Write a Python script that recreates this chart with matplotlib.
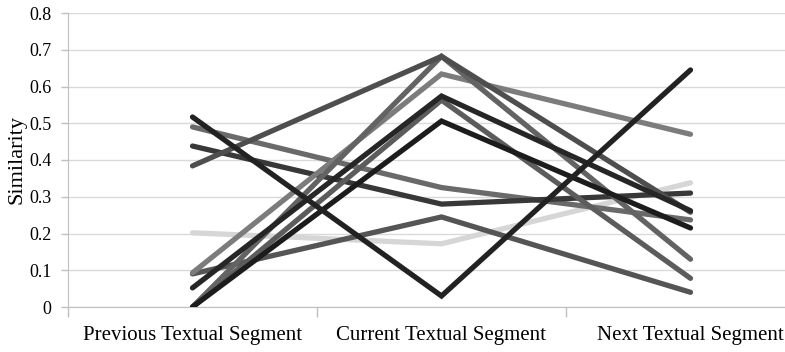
import matplotlib
matplotlib.use("Agg")
import matplotlib.pyplot as plt

categories = ["Previous Textual Segment", "Current Textual Segment", "Next Textual Segment"]

s01 = [0.517, 0.030, 0.645]
s02 = [0.490, 0.325, 0.237]
s03 = [0.438, 0.280, 0.310]
s04 = [0.384, 0.682, 0.258]
s05 = [0.202, 0.172, 0.338]
s06 = [0.093, 0.634, 0.470]
s07 = [0.090, 0.245, 0.040]
s08 = [0.052, 0.574, 0.262]
s09 = [0.000, 0.682, 0.130]
s10 = [0.000, 0.506, 0.215]
s11 = [0.000, 0.563, 0.078]

series = [s05, s02, s03, s07, s06, s11, s09, s04, s10, s08, s01]
colors = ["#d6d6d6", "#6a6a6a", "#383838", "#555555", "#7c7c7c", "#5c5c5c",
          "#636363", "#4e4e4e", "#1c1c1c", "#262626", "#222222"]

yticks = [0, 0.1, 0.2, 0.3, 0.4, 0.5, 0.6, 0.7, 0.8]
ytick_labels = ["0", "0.1", "0.2", "0.3", "0.4", "0.5", "0.6", "0.7", "0.8"]

plt.rcParams['font.family'] = ['Liberation Serif', 'DejaVu Serif']

fig = plt.figure(figsize=(7.85, 3.52), dpi=100)
ax = fig.add_axes([68/785, 45/352, 747/785, 294/352])

x = list(range(len(categories)))
for vals, c in zip(series, colors):
    ax.plot(x, vals, color=c, lw=3.8, solid_capstyle='round', solid_joinstyle='miter', zorder=3)

ax.set_xlim(-0.5, 2.5)
ax.set_ylim(0, 0.8)
ax.set_yticks(yticks)
ax.set_yticklabels(ytick_labels, fontsize=13)
ax.set_xticks(x)
ax.set_xticklabels(categories, fontsize=15)
ax.set_xticks([-0.5, 0.5, 1.5, 2.5], minor=True)
ax.tick_params(axis='x', which='major', length=0, pad=14)
ax.tick_params(axis='x', which='minor', length=7, color='#bfbfbf', width=1)
ax.tick_params(axis='y', length=5, color='#bfbfbf', width=1, pad=7)
ax.grid(axis='y', color='#d9d9d9', lw=1, zorder=0)
for sp in ['top', 'right']:
    ax.spines[sp].set_visible(False)
ax.spines['left'].set_color('#bfbfbf')
ax.spines['bottom'].set_color('#bfbfbf')
ax.set_ylabel("Similarity", fontsize=16)
ax.yaxis.set_label_coords(-0.056, 0.5)

fig.savefig("out.png", dpi=100)
